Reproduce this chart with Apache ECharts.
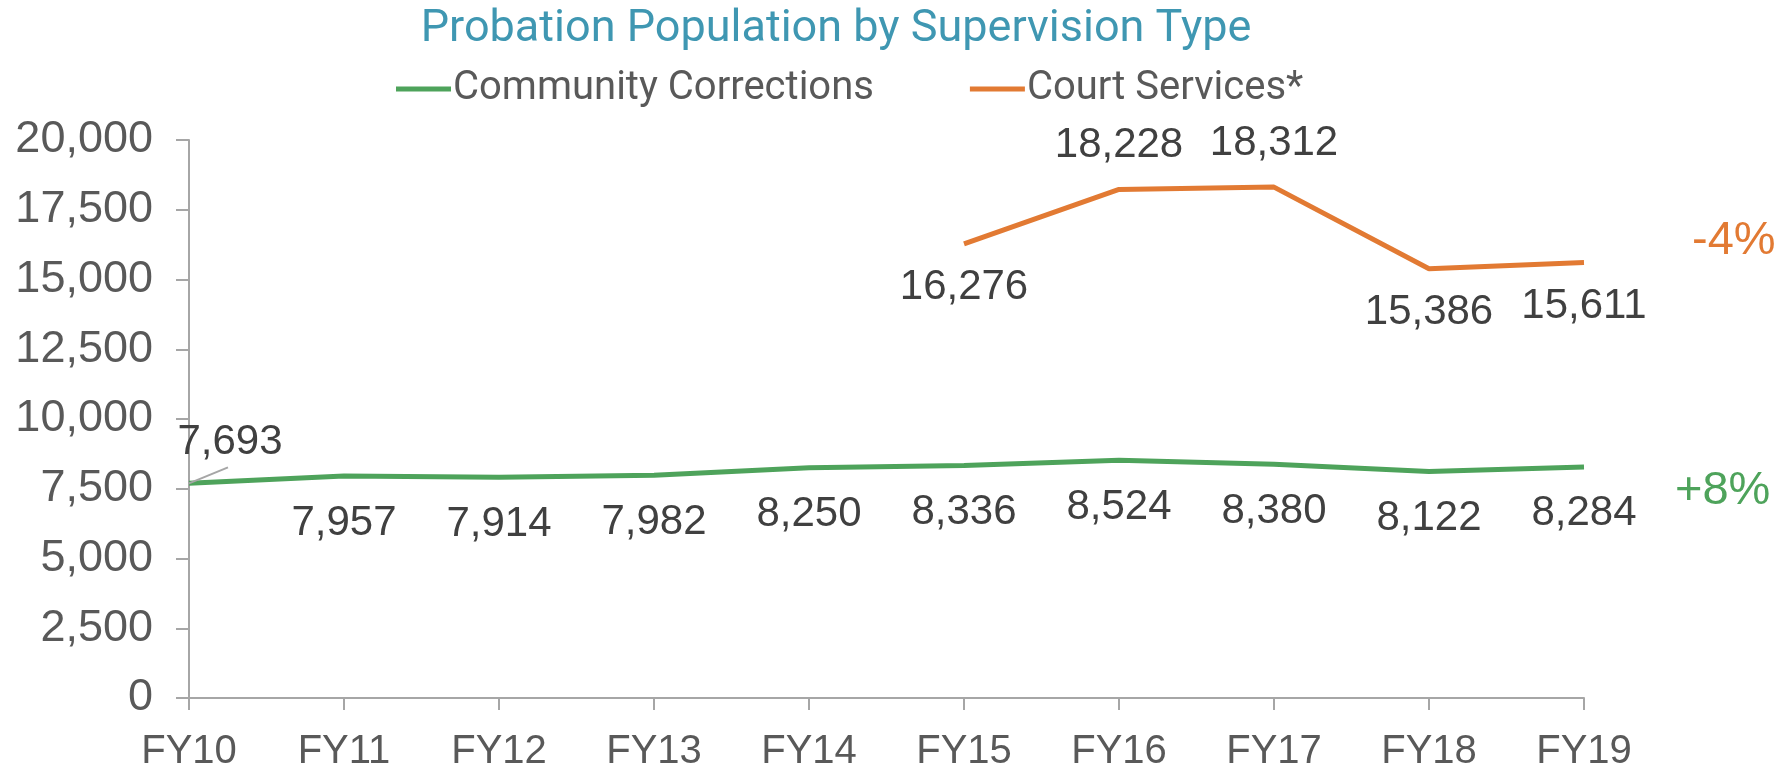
<!DOCTYPE html>
<html>
<head>
<meta charset="utf-8">
<script src="https://cdn.jsdelivr.net/npm/echarts@6/dist/echarts.min.js"></script>
<style>html,body{margin:0;padding:0;background:#fff;}#c{width:1778px;height:768px;}</style>
</head>
<body>
<div id="c"></div>
<script>
const categories = ['FY10','FY11','FY12','FY13','FY14','FY15','FY16','FY17','FY18','FY19'];
const communityCorrections = [7693, 7957, 7914, 7982, 8250, 8336, 8524, 8380, 8122, 8284];
const courtServices = [null, null, null, null, null, 16276, 18228, 18312, 15386, 15611];
const courtLabelAbove = [false, false, false, false, false, false, true, true, false, false];
const changeLabels = ['+8%', '-4%'];

const GREEN = '#4EA35B';
const ORANGE = '#E27A33';
const fmt = v => v.toLocaleString('en-US');
const NUMFONT = '"Liberation Sans", Arial, sans-serif';
const NARROW = '"Liberation Sans Narrow", "Roboto", sans-serif';

const chart = echarts.init(document.getElementById('c'));
chart.setOption({
  animation: false,
  title: {
    text: 'Probation Population by Supervision Type',
    left: 831, textAlign: 'center', top: 2,
    textStyle: { color: '#3F97B2', fontSize: 45, fontWeight: 'normal', fontFamily: NARROW }
  },
  legend: {
    top: 64, left: 391,
    itemWidth: 55, itemHeight: 5, itemGap: 96,
    icon: 'rect',
    textStyle: { color: '#595959', fontSize: 40, fontFamily: NARROW, padding: [0,0,0,-3] },
    data: ['Community Corrections', 'Court Services*']
  },
  grid: { left: 189, right: 194, top: 140, bottom: 70, containLabel: false, outerBoundsMode: 'none' },
  xAxis: {
    type: 'category', data: categories, boundaryGap: false,
    axisLine: { lineStyle: { color: '#A6A6A6', width: 2 } },
    axisTick: { show: true, length: 12, alignWithLabel: true, lineStyle: { color: '#A6A6A6', width: 2 } },
    axisLabel: { color: '#595959', fontSize: 40, fontFamily: NUMFONT, margin: 34 }
  },
  yAxis: {
    type: 'value', min: 0, max: 20000, interval: 2500,
    axisLine: { show: true, lineStyle: { color: '#A6A6A6', width: 2 } },
    axisTick: { show: true, length: 13, lineStyle: { color: '#A6A6A6', width: 2 } },
    splitLine: { show: false },
    axisLabel: { color: '#595959', fontSize: 45, fontFamily: NUMFONT, margin: 36,
      formatter: v => fmt(v) }
  },
  series: [
    {
      name: 'Community Corrections', type: 'line', data: communityCorrections,
      symbol: 'circle', symbolSize: 0, showSymbol: true,
      lineStyle: { color: GREEN, width: 5 }, itemStyle: { color: GREEN },
      label: { show: true, position: 'bottom', distance: 26, color: '#404040', fontSize: 42,
        fontFamily: NUMFONT, formatter: p => fmt(p.value) },
      labelLayout: function (p) {
        if (p.dataIndex === 0) {
          return { dx: 41, dy: -88 };
        }
      },
      endLabel: { show: true, formatter: changeLabels[0], color: GREEN, fontSize: 47, fontFamily: NUMFONT,
        offset: [83, 24] },
      z: 3
    },
    {
      name: 'Court Services*', type: 'line',
      data: courtServices.map((v, i) => v === null ? null : {
        value: v,
        label: { position: courtLabelAbove[i] ? 'top' : 'bottom' }
      }),
      symbol: 'circle', symbolSize: 0, showSymbol: true, connectNulls: false,
      lineStyle: { color: ORANGE, width: 5 }, itemStyle: { color: ORANGE },
      label: { show: true, distance: 23, color: '#404040', fontSize: 42, fontFamily: NUMFONT,
        formatter: p => fmt(p.value) },
      endLabel: { show: true, formatter: changeLabels[1], color: ORANGE, fontSize: 47, fontFamily: NUMFONT,
        offset: [100, -21] },
      z: 3
    }
  ]
});
// leader line for the first data label, anchored on the data point via the chart's own scale
const p0 = chart.convertToPixel({ seriesIndex: 0 }, [0, communityCorrections[0]]);
chart.setOption({
  graphic: [{
    type: 'line', z: 10,
    shape: { x1: p0[0], y1: p0[1], x2: p0[0] + 39, y2: p0[1] - 16 },
    style: { stroke: '#A6A6A6', lineWidth: 2 }
  }]
});
</script>
</body>
</html>
